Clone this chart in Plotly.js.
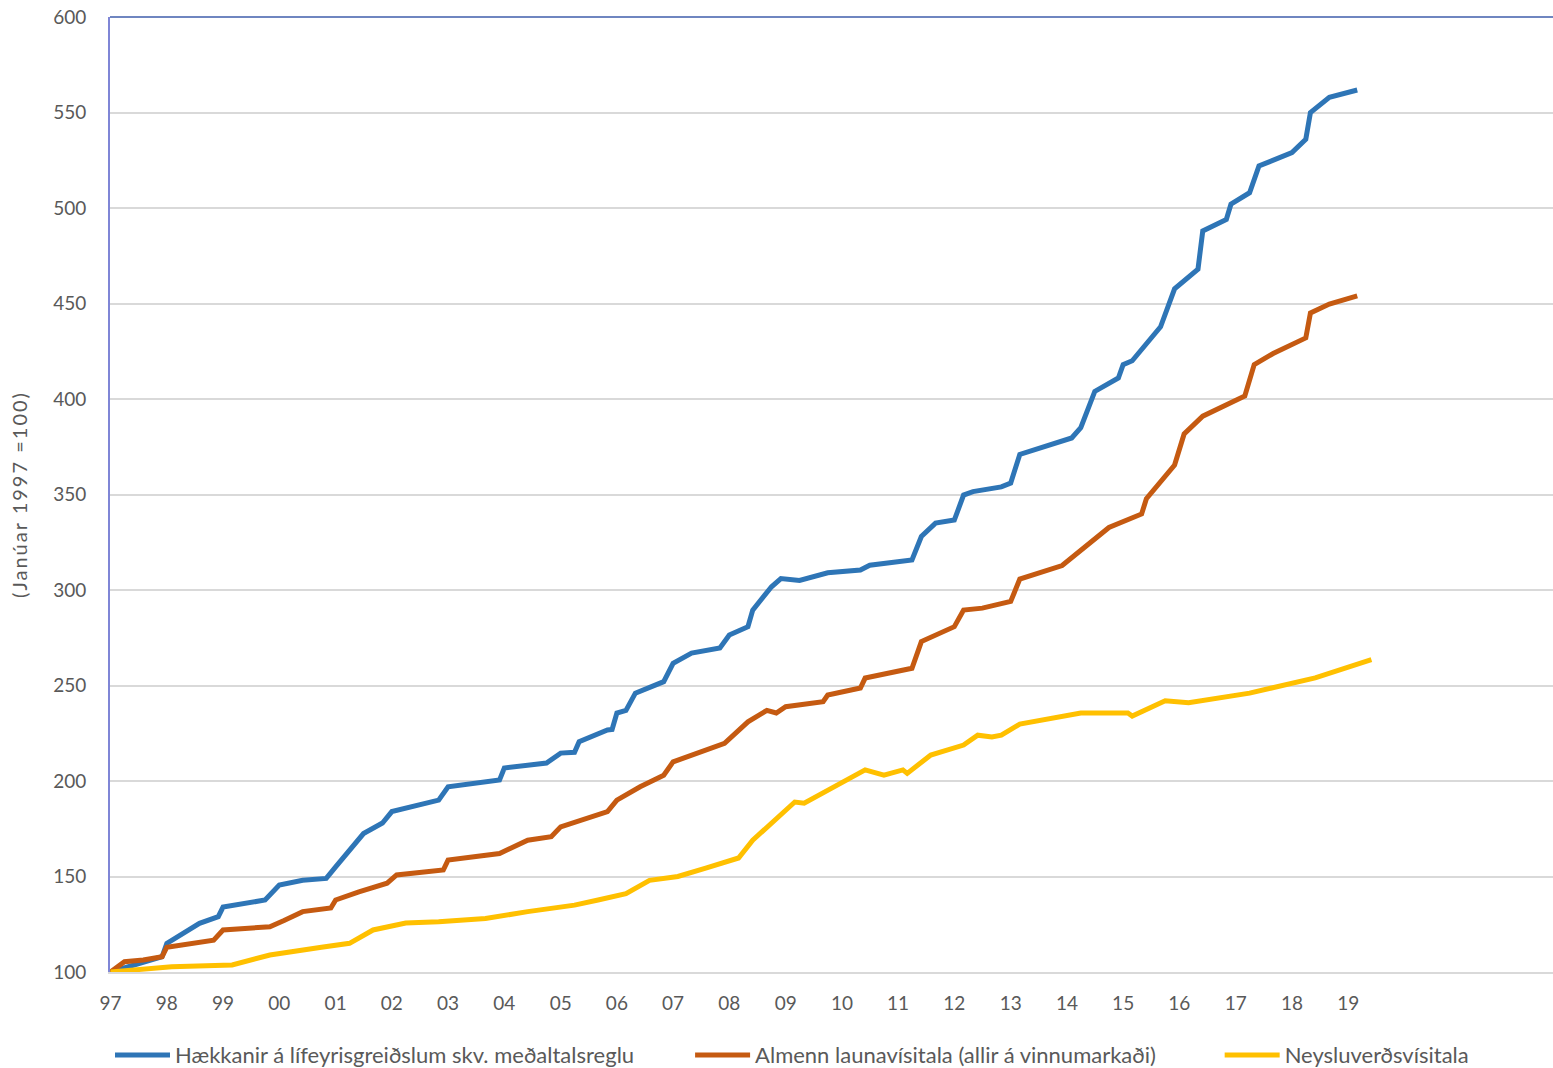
<!DOCTYPE html>
<html>
<head>
<meta charset="utf-8">
<script src="https://cdn.plot.ly/plotly-3.0.1.min.js"></script>
<style>
  html, body { margin: 0; padding: 0; background: #ffffff; }
  #chart { width: 1553px; height: 1068px; }
  .ytitle { letter-spacing: 2px; }
</style>
</head>
<body>
<div id="chart"></div>
<script>
// ---- Data ----
const seriesNames = [
  'Hækkanir á lífeyrisgreiðslum skv. meðaltalsreglu',
  'Almenn launavísitala (allir á vinnumarkaði)',
  'Neysluverðsvísitala'
];

const pensionDates = ['1997-01','1997-04','1997-07','1997-12','1998-01','1998-08','1998-12','1999-01','1999-10','2000-01','2000-06','2000-11','2001-01','2001-07','2001-11','2002-01','2002-11','2003-01','2003-12','2004-01','2004-10','2005-01','2005-04','2005-05','2005-11','2005-12','2006-01','2006-03','2006-05','2006-11','2007-01','2007-05','2007-11','2008-01','2008-05','2008-06','2008-10','2008-12','2009-04','2009-10','2010-05','2010-07','2011-04','2011-06','2011-09','2012-01','2012-03','2012-05','2012-11','2013-01','2013-03','2014-02','2014-04','2014-07','2014-12','2015-01','2015-03','2015-09','2015-12','2016-05','2016-06','2016-11','2016-12','2017-04','2017-06','2018-01','2018-04','2018-05','2018-09','2019-03'];
const pensionValues = [100,102,104.5,108,115,125.5,129,134,137.7,145.5,148,149,155,172.5,178,184,190,197,200.5,206.8,209.4,214.6,215,220.6,226.7,227,235.6,237,246,252,261.6,267,269.6,276.4,280.8,289.5,301.7,306,305,309,310.5,313,315.7,328,335,336.6,349.7,351.5,354,356,371,379.6,385,404,411,418,420,437.8,457.7,468,488,494,502,508,522,529,536,550,558,561.8];

const wageDates = ['1997-01','1997-04','1997-08','1997-12','1998-01','1998-11','1999-01','1999-11','2000-02','2000-06','2000-12','2001-01','2001-06','2001-12','2002-02','2002-12','2003-01','2003-12','2004-06','2004-11','2005-01','2005-11','2006-01','2006-06','2006-11','2007-01','2007-12','2008-05','2008-09','2008-11','2009-01','2009-09','2009-10','2010-05','2010-06','2011-04','2011-06','2012-01','2012-03','2012-07','2013-01','2013-03','2013-12','2014-04','2014-10','2015-05','2015-06','2015-12','2016-02','2016-06','2017-03','2017-05','2017-09','2018-04','2018-05','2018-09','2019-03'];
const wageValues = [100,105.4,106.3,108,113,116.7,122,123.7,127,131.6,133.5,137.7,142,146.5,150.8,153.4,158.6,162,169,170.8,176,184,190,197,203,210,219.7,231,237,235.6,238.9,241.5,245,248.7,253.9,259,273,280.8,289.5,290.5,294,305.7,312.8,321,332.7,339.8,347.8,365.4,381.7,391,401.6,418,423.8,432,445,449.7,454];

const cpiDates = ['1997-01','1998-02','1999-03','1999-11','2000-10','2001-04','2001-09','2002-04','2002-11','2003-09','2004-06','2005-04','2005-09','2006-03','2006-08','2007-02','2007-08','2008-03','2008-06','2008-10','2009-03','2009-05','2010-01','2010-06','2010-10','2011-02','2011-03','2011-08','2012-03','2012-06','2012-09','2012-11','2013-03','2014-04','2015-02','2015-03','2015-10','2016-03','2017-04','2018-06','2019-06'];
const cpiValues = [100,102.8,103.7,108.9,113,115,122,125.6,126.3,128,131.6,135,137.7,141,148,150,154.4,159.7,169,178,189,188.4,199.6,205.8,203,205.8,204,213.6,218.8,224,223,224,229.8,235.6,235.6,234,242,241,246,254,263.5];

const tickDates = ['1997-01-01','1998-01-01','1999-01-01','2000-01-01','2001-01-01','2002-01-01','2003-01-01','2004-01-01','2005-01-01','2006-01-01','2007-01-01','2008-01-01','2009-01-01','2010-01-01','2011-01-01','2012-01-01','2013-01-01','2014-01-01','2015-01-01','2016-01-01','2017-01-01','2018-01-01','2019-01-01'];
const tickLabels = ['97','98','99','00','01','02','03','04','05','06','07','08','09','10','11','12','13','14','15','16','17','18','19'];

const yAxisTitle = '(Janúar 1997 =100)';

// ---- Styles ----
const colors = ['#2E75B6', '#C55A11', '#FFC000'];
const legendIds = ['legend', 'legend2', 'legend3'];
const legendX = [0.0, 0.402, 0.769];
const textColor = '#595959';
const fontFamily = 'Lato, "Open Sans", "Liberation Sans", sans-serif';

const traces = [
  { x: pensionDates, y: pensionValues, name: seriesNames[0] },
  { x: wageDates, y: wageValues, name: seriesNames[1] },
  { x: cpiDates, y: cpiValues, name: seriesNames[2] }
].map((t, i) => Object.assign(t, {
  type: 'scatter',
  mode: 'lines',
  legend: legendIds[i],
  line: { color: colors[i], width: 5 },
  hoverinfo: 'x+y'
}));

function legendBox(x) {
  return {
    orientation: 'h',
    x: x,
    xanchor: 'left',
    y: -0.087,
    yanchor: 'middle',
    font: { family: fontFamily, size: 22, color: textColor },
    bgcolor: 'rgba(0,0,0,0)',
    itemwidth: 55
  };
}

const layout = {
  width: 1553,
  height: 1068,
  margin: { l: 110, r: 0, t: 17, b: 96, autoexpand: false },
  paper_bgcolor: '#ffffff',
  plot_bgcolor: '#ffffff',
  font: { family: fontFamily, size: 18, color: textColor },
  showlegend: true,
  legend: legendBox(legendX[0]),
  legend2: legendBox(legendX[1]),
  legend3: legendBox(legendX[2]),
  xaxis: {
    type: 'date',
    range: ['1996-12-28', '2022-08-23'],
    tickmode: 'array',
    tickvals: tickDates,
    ticktext: tickLabels,
    showgrid: false,
    zeroline: false,
    showline: true,
    linecolor: '#d9d9d9',
    linewidth: 2,
    ticks: '',
    ticklabelstandoff: 13,
    tickfont: { family: fontFamily, size: 19, color: textColor }
  },
  yaxis: {
    range: [100, 600],
    tickmode: 'linear',
    tick0: 100,
    dtick: 50,
    showgrid: true,
    gridcolor: '#d9d9d9',
    gridwidth: 2,
    zeroline: false,
    showline: true,
    linecolor: '#7f86d6',
    linewidth: 2,
    ticks: '',
    ticklabelstandoff: 18,
    tickfont: { family: fontFamily, size: 19, color: textColor },
    title: { text: yAxisTitle, font: { family: fontFamily, size: 20, color: textColor }, standoff: 20 }
  },
  shapes: [
    { type: 'line', xref: 'paper', yref: 'paper', x0: 0, x1: 1, y0: 1, y1: 1,
      line: { color: '#6f86c0', width: 2 } }
  ]
};

Plotly.newPlot('chart', traces, layout, { displayModeBar: false, staticPlot: true });
</script>
</body>
</html>
